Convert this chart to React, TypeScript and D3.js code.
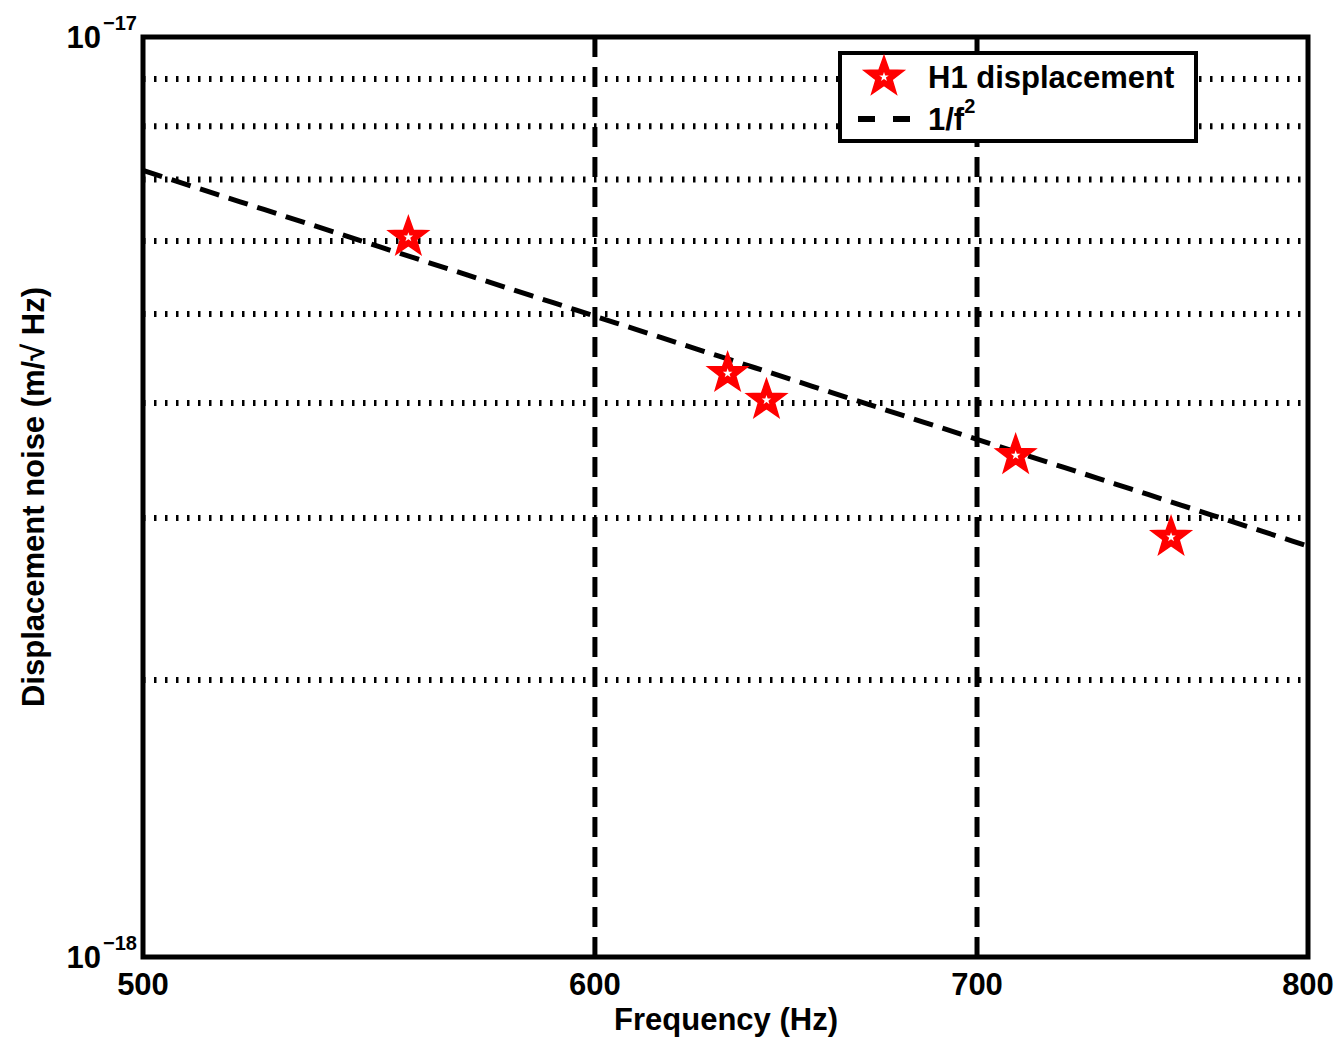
import React from "react";
import * as d3 from "d3";

const freqs = [556.5, 633, 643, 711, 757];
const noise = [6.06e-18, 4.31e-18, 4.03e-18, 3.51e-18, 2.86e-18];
const fitCoef = 1.79e-12; // A / f^2
const xTicks = [500, 600, 700, 800];
const yGrid = [2e-18, 3e-18, 4e-18, 5e-18, 6e-18, 7e-18, 8e-18, 9e-18];
const yTickExp = [-18, -17];

const W = 1337, H = 1037;
const L = 143, R = 1308, T = 37, B = 957;

function starPath(cx: number, cy: number, ro: number, ri: number) {
  const pts: string[] = [];
  for (let i = 0; i < 10; i++) {
    const r = i % 2 === 0 ? ro : ri;
    const a = -Math.PI / 2 + (i * Math.PI) / 5;
    pts.push(`${cx + r * Math.cos(a)},${cy + r * Math.sin(a)}`);
  }
  return "M" + pts.join("L") + "Z";
}

export default function App() {
  const x = d3.scaleLog().domain([500, 800]).range([L, R]);
  const y = d3.scaleLog().domain([1e-18, 1e-17]).range([B, T]);
  const fitX = d3.range(500, 801, 5);
  const line = d3
    .line<number>()
    .x((f) => x(f))
    .y((f) => y(fitCoef / (f * f)));
  const font = "'Liberation Sans', Arial, Helvetica, sans-serif";
  return (
    <svg width={W} height={H} style={{ position: "absolute", left: 0, top: 0, background: "#fff" }} fontFamily={font} fontWeight="bold">
      <rect x={0} y={0} width={W} height={H} fill="#fff" />
      {yGrid.map((v) => (
        <line key={v} x1={L} x2={R} y1={y(v)} y2={y(v)} stroke="#000" strokeWidth={6} strokeDasharray="2.5 8.5" />
      ))}
      {[600, 700].map((v) => (
        <line key={v} x1={x(v)} x2={x(v)} y1={T} y2={B} stroke="#000" strokeWidth={5} strokeDasharray="20 10" />
      ))}
      <path d={line(fitX) || ""} fill="none" stroke="#000" strokeWidth={5} strokeDasharray="20 10" />
      {freqs.map((f, i) => (
        <g key={i}>
          <path d={starPath(x(f), y(noise[i]), 21, 8.5)} fill="#ff0000" stroke="#ff0000" strokeWidth={1.5} />
          <path d={starPath(x(f), y(noise[i]), 5, 2)} fill="#fff" />
        </g>
      ))}
      <rect x={L} y={T} width={R - L} height={B - T} fill="none" stroke="#000" strokeWidth={5} />
      {xTicks.map((t) => (
        <text key={t} x={x(t)} y={995} textAnchor="middle" fontSize={31}>{t}</text>
      ))}
      {yTickExp.map((e) => (
        <g key={e}>
          <text x={101} y={y(Math.pow(10, e)) + 11} textAnchor="end" fontSize={31}>10</text>
          <text x={103} y={y(Math.pow(10, e)) - 7} textAnchor="start" fontSize={20}>{"\u2212" + Math.abs(e)}</text>
        </g>
      ))}
      <text x={726} y={1030} textAnchor="middle" fontSize={31}>Frequency (Hz)</text>
      <text transform="translate(44,497) rotate(-90)" textAnchor="middle" fontSize={31}>Displacement noise (m/√ Hz)</text>
      <g>
        <rect x={840} y={53} width={356} height={88} fill="#fff" stroke="#000" strokeWidth={4} />
        <path d={starPath(884, 77, 21, 8.5)} fill="#ff0000" stroke="#ff0000" strokeWidth={1.5} />
        <path d={starPath(884, 77, 5, 2)} fill="#fff" />
        <line x1={858} x2={910} y1={119} y2={119} stroke="#000" strokeWidth={6} strokeDasharray="17 18" />
        <text x={928} y={88} fontSize={31}>H1 displacement</text>
        <text x={928} y={130} fontSize={31}>1/f<tspan dy={-17} fontSize={20}>2</tspan></text>
      </g>
    </svg>
  );
}
